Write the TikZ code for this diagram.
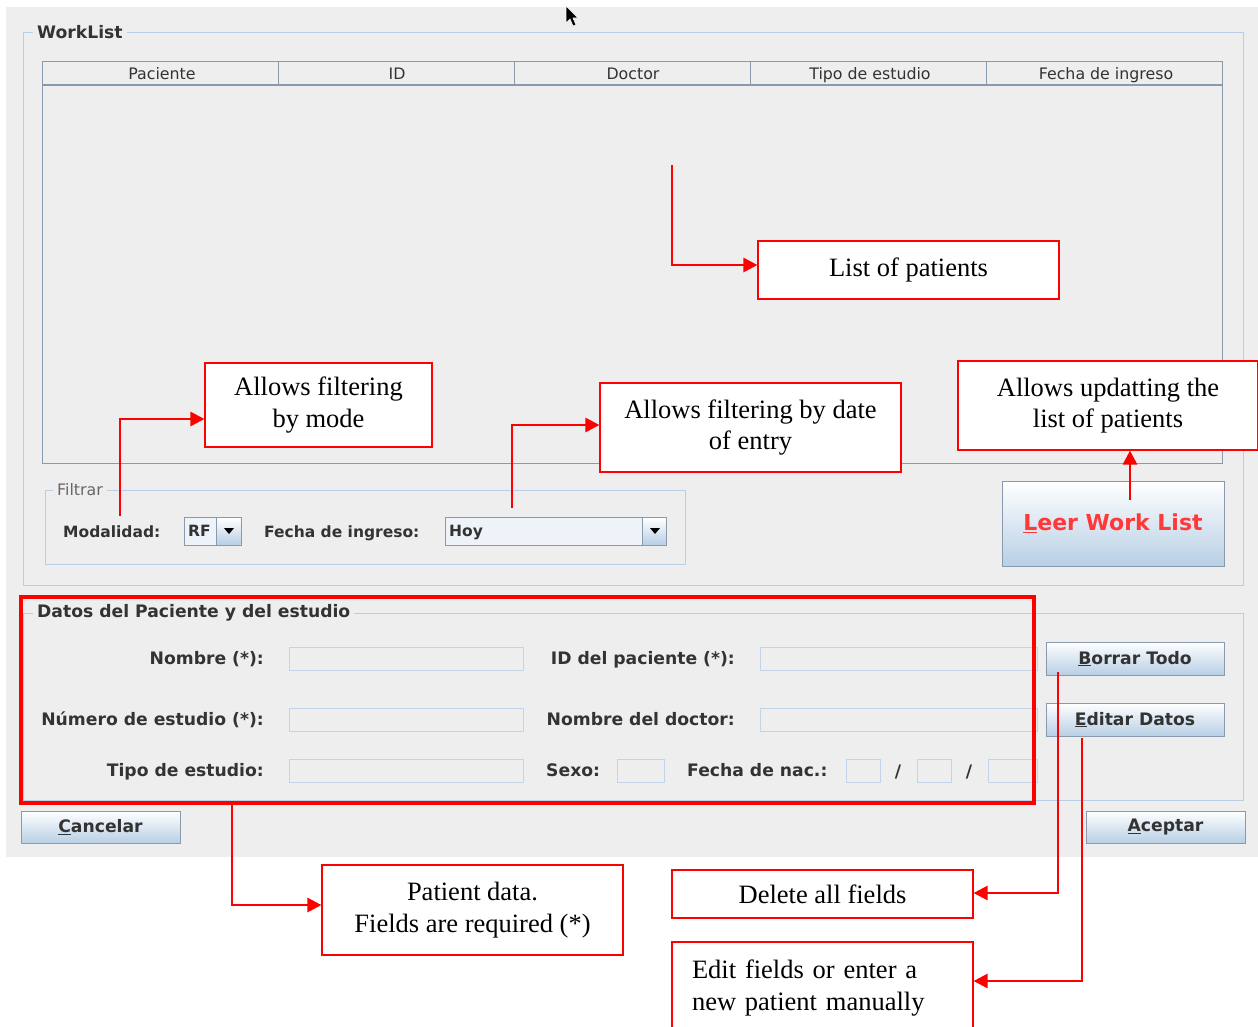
\documentclass[tikz,border=0pt]{standalone}
\usepackage{fontspec}
\setmainfont{Liberation Serif}
\newfontfamily\guifont{DejaVu Sans}
\usetikzlibrary{arrows.meta}
\definecolor{winbg}{HTML}{EEEEEE}
\definecolor{tborder}{HTML}{B8CFE5}
\definecolor{slate}{HTML}{8A9AAD}
\definecolor{guitext}{HTML}{333333}
\definecolor{btnbot}{HTML}{B8CFE5}
\definecolor{annred}{HTML}{FF0000}
\definecolor{leerred}{HTML}{FF3838}
\definecolor{fieldbd}{HTML}{C4D4E8}
\definecolor{combofill}{HTML}{EEF3FA}
\begin{document}
\begin{tikzpicture}[x=1pt,y=-1pt,
  guitxt/.style={font=\guifont\fontsize{15.8}{18}\selectfont, text=guitext, inner sep=0pt},
  guibold/.style={font=\guifont\bfseries\fontsize{15.5}{18}\selectfont, text=guitext, inner sep=0pt},
  guibig/.style={font=\guifont\bfseries\fontsize{17.2}{20}\selectfont, text=guitext, inner sep=0pt},
  btn/.style={guibig, draw=slate, top color=white, bottom color=btnbot, line width=1pt},
  field/.style={draw=fieldbd, line width=1pt},
  annbox/.style={draw=annred, fill=white, line width=1.1pt, inner sep=0pt, align=center,
    font=\fontsize{26.5}{31.5}\selectfont, text=black},
  arr/.style={draw=annred, line width=2.8pt, -{Triangle[length=14pt,width=14pt]}},
]
% page and window
\fill[white] (0,0) rectangle (1258,1026);
\useasboundingbox (0,0) rectangle (1258,1026);
\fill[winbg] (6,7) rectangle (1258,857);

% WorkList titled border
\draw[tborder, line width=1pt] (23,32) rectangle (1243,585);
\node[guibig, fill=winbg, inner xsep=4pt, anchor=west] (wltitle) at (33,32) {WorkList};

% table
\fill[winbg] (42,61) rectangle (1222,85);
\draw[slate, line width=1pt] (42,61) rectangle (1222,463);
\draw[slate, line width=1.5pt] (42,85) -- (1222,85);
\foreach \cx in {278,514,750,986} {\draw[slate, line width=1pt] (\cx,61) -- (\cx,85);}
\node[guitxt, anchor=base] (h1) at (162,79) {Paciente};
\node[guitxt, anchor=base] (h2) at (397,79) {ID};
\node[guitxt, anchor=base] (h3) at (633,79) {Doctor};
\node[guitxt, anchor=base] (h4) at (870,79) {Tipo de estudio};
\node[guitxt, anchor=base] (h5) at (1106,79) {Fecha de ingreso};

% Filtrar
\draw[tborder, line width=1pt] (45,490) rectangle (685,564);
\node[guitxt, fill=winbg, inner xsep=4pt, anchor=west, text=gray!80!black] (ftitle) at (53,490) {Filtrar};
\node[guibold, anchor=base west] (modl) at (63,537) {Modalidad:};
\draw[slate, fill=combofill, line width=1pt] (184,517) rectangle (241,545);
\shade[top color=white, bottom color=btnbot] (216,518) rectangle (240.5,544.5);
\draw[slate, line width=1pt] (216,517) -- (216,545);
\fill[black] (224,528) -- (234,528) -- (229,534) -- cycle;
\node[guibold, anchor=base west] (rf) at (188,536) {RF};
\node[guibold, anchor=base west] (fil) at (264,537) {Fecha de ingreso:};
\draw[slate, fill=combofill, line width=1pt] (445,517) rectangle (666,545);
\shade[top color=white, bottom color=btnbot] (642,518) rectangle (665.5,544.5);
\draw[slate, line width=1pt] (642,517) -- (642,545);
\fill[black] (650,528) -- (660,528) -- (655,534) -- cycle;
\node[guibold, anchor=base west] (hoy) at (449,536) {Hoy};

% Leer Work List button
\node[btn, minimum width=222pt, minimum height=85pt, font=\guifont\bfseries\fontsize{22}{26}\selectfont, text=leerred] (leer) at (1113,523.5) {\underline{L}eer Work List};

% Datos del Paciente
\draw[tborder, line width=1pt] (23,613) rectangle (1243,800);
\node[guibig, fill=winbg, inner xsep=4pt, anchor=west] (dtitle) at (33,613) {Datos del Paciente y del estudio};
\node[guibig, anchor=base east] (l1) at (264,664) {Nombre (*):};
\node[guibig, anchor=base east] (l2) at (264,725) {Número de estudio (*):};
\node[guibig, anchor=base east] (l3) at (264,776) {Tipo de estudio:};
\draw[field] (289,647) rectangle (523,670);
\draw[field] (289,708) rectangle (523,731);
\draw[field] (289,759) rectangle (523,782);
\node[guibig, anchor=base east] (l4) at (735,664) {ID del paciente (*):};
\node[guibig, anchor=base east] (l5) at (735,725) {Nombre del doctor:};
\node[guibig, anchor=base west] (l6) at (546,776) {Sexo:};
\node[guibig, anchor=base west] (l7) at (687,776) {Fecha de nac.:};
\draw[field] (760,647) rectangle (1037,670);
\draw[field] (760,708) rectangle (1037,731);
\draw[field] (617,759) rectangle (664,782);
\draw[field] (846,759) rectangle (880,782);
\draw[field] (917,759) rectangle (951,782);
\draw[field] (988,759) rectangle (1037,782);
\node[guibig, anchor=base] (sl1) at (898,777) {/};
\node[guibig, anchor=base] (sl2) at (969,777) {/};

% buttons
\node[btn, minimum width=178pt, minimum height=33pt] (borrar) at (1135,658.5) {\underline{B}orrar Todo};
\node[btn, minimum width=178pt, minimum height=33pt] (editar) at (1135,719.5) {\underline{E}ditar Datos};
\node[btn, minimum width=159pt, minimum height=32pt] (cancelar) at (100.5,827) {\underline{C}ancelar};
\node[btn, minimum width=159pt, minimum height=32pt] (aceptar) at (1165.5,827) {\underline{A}ceptar};

% red highlight box
\node[draw=annred, line width=3.5pt, minimum width=1013pt, minimum height=206pt, inner sep=0pt] (datosbox) at (527.5,700) {};

% mouse cursor
\filldraw[fill=black, draw=white, line width=0.6pt] (566,6) -- (566,23) -- (570,19) -- (573,26) -- (576,25) -- (573,18) -- (578,18) -- cycle;

% annotation boxes
\node[annbox, minimum width=301pt, minimum height=58pt] (lp) at (908.5,270) {List of patients};
\node[annbox, minimum width=227pt, minimum height=84pt] (fm) at (318.5,405) {Allows filtering\\by mode};
\node[annbox, minimum width=301pt, minimum height=89pt] (fd) at (750.5,427.5) {Allows filtering by date\\of entry};
\node[annbox, minimum width=300pt, minimum height=89pt] (upd) at (1108,405.5) {Allows updatting the\\list of patients};
\node[annbox, minimum width=301pt, minimum height=90pt] (pdb) at (472.5,910) {Patient data.\\Fields are required (*)};
\node[annbox, minimum width=301pt, minimum height=48pt] (del) at (822.5,894) {Delete all fields};
\node[annbox, minimum width=301pt, minimum height=92pt, align=left, text width=261pt] (edt) at (822.5,988) {Edit fields or enter a\\new patient manually};

% connectors
\coordinate (s1) at (672,165);
\coordinate (k1) at (672,265);
\draw[arr] (s1) -- (k1) -- (k1 -| lp.west);
\coordinate (s2) at (120,516);
\coordinate (k2) at (120,419);
\draw[arr] (s2) -- (k2) -- (k2 -| fm.west);
\coordinate (s3) at (512,508);
\coordinate (k3) at (512,425);
\draw[arr] (s3) -- (k3) -- (k3 -| fd.west);
\coordinate (s4) at (1130,500);
\draw[arr] (s4) -- (s4 |- upd.south);
\coordinate (s5) at (232,804);
\coordinate (k5) at (232,905);
\draw[arr] (s5) -- (k5) -- (k5 -| pdb.west);
\coordinate (s6) at (1058,672);
\coordinate (k6) at (1058,893);
\draw[arr, line width=2.4pt] (s6) -- (k6) -- (k6 -| del.east);
\coordinate (s7) at (1082,738);
\coordinate (k7) at (1082,981);
\draw[arr, line width=2.4pt] (s7) -- (k7) -- (k7 -| edt.east);
\end{tikzpicture}
\end{document}
